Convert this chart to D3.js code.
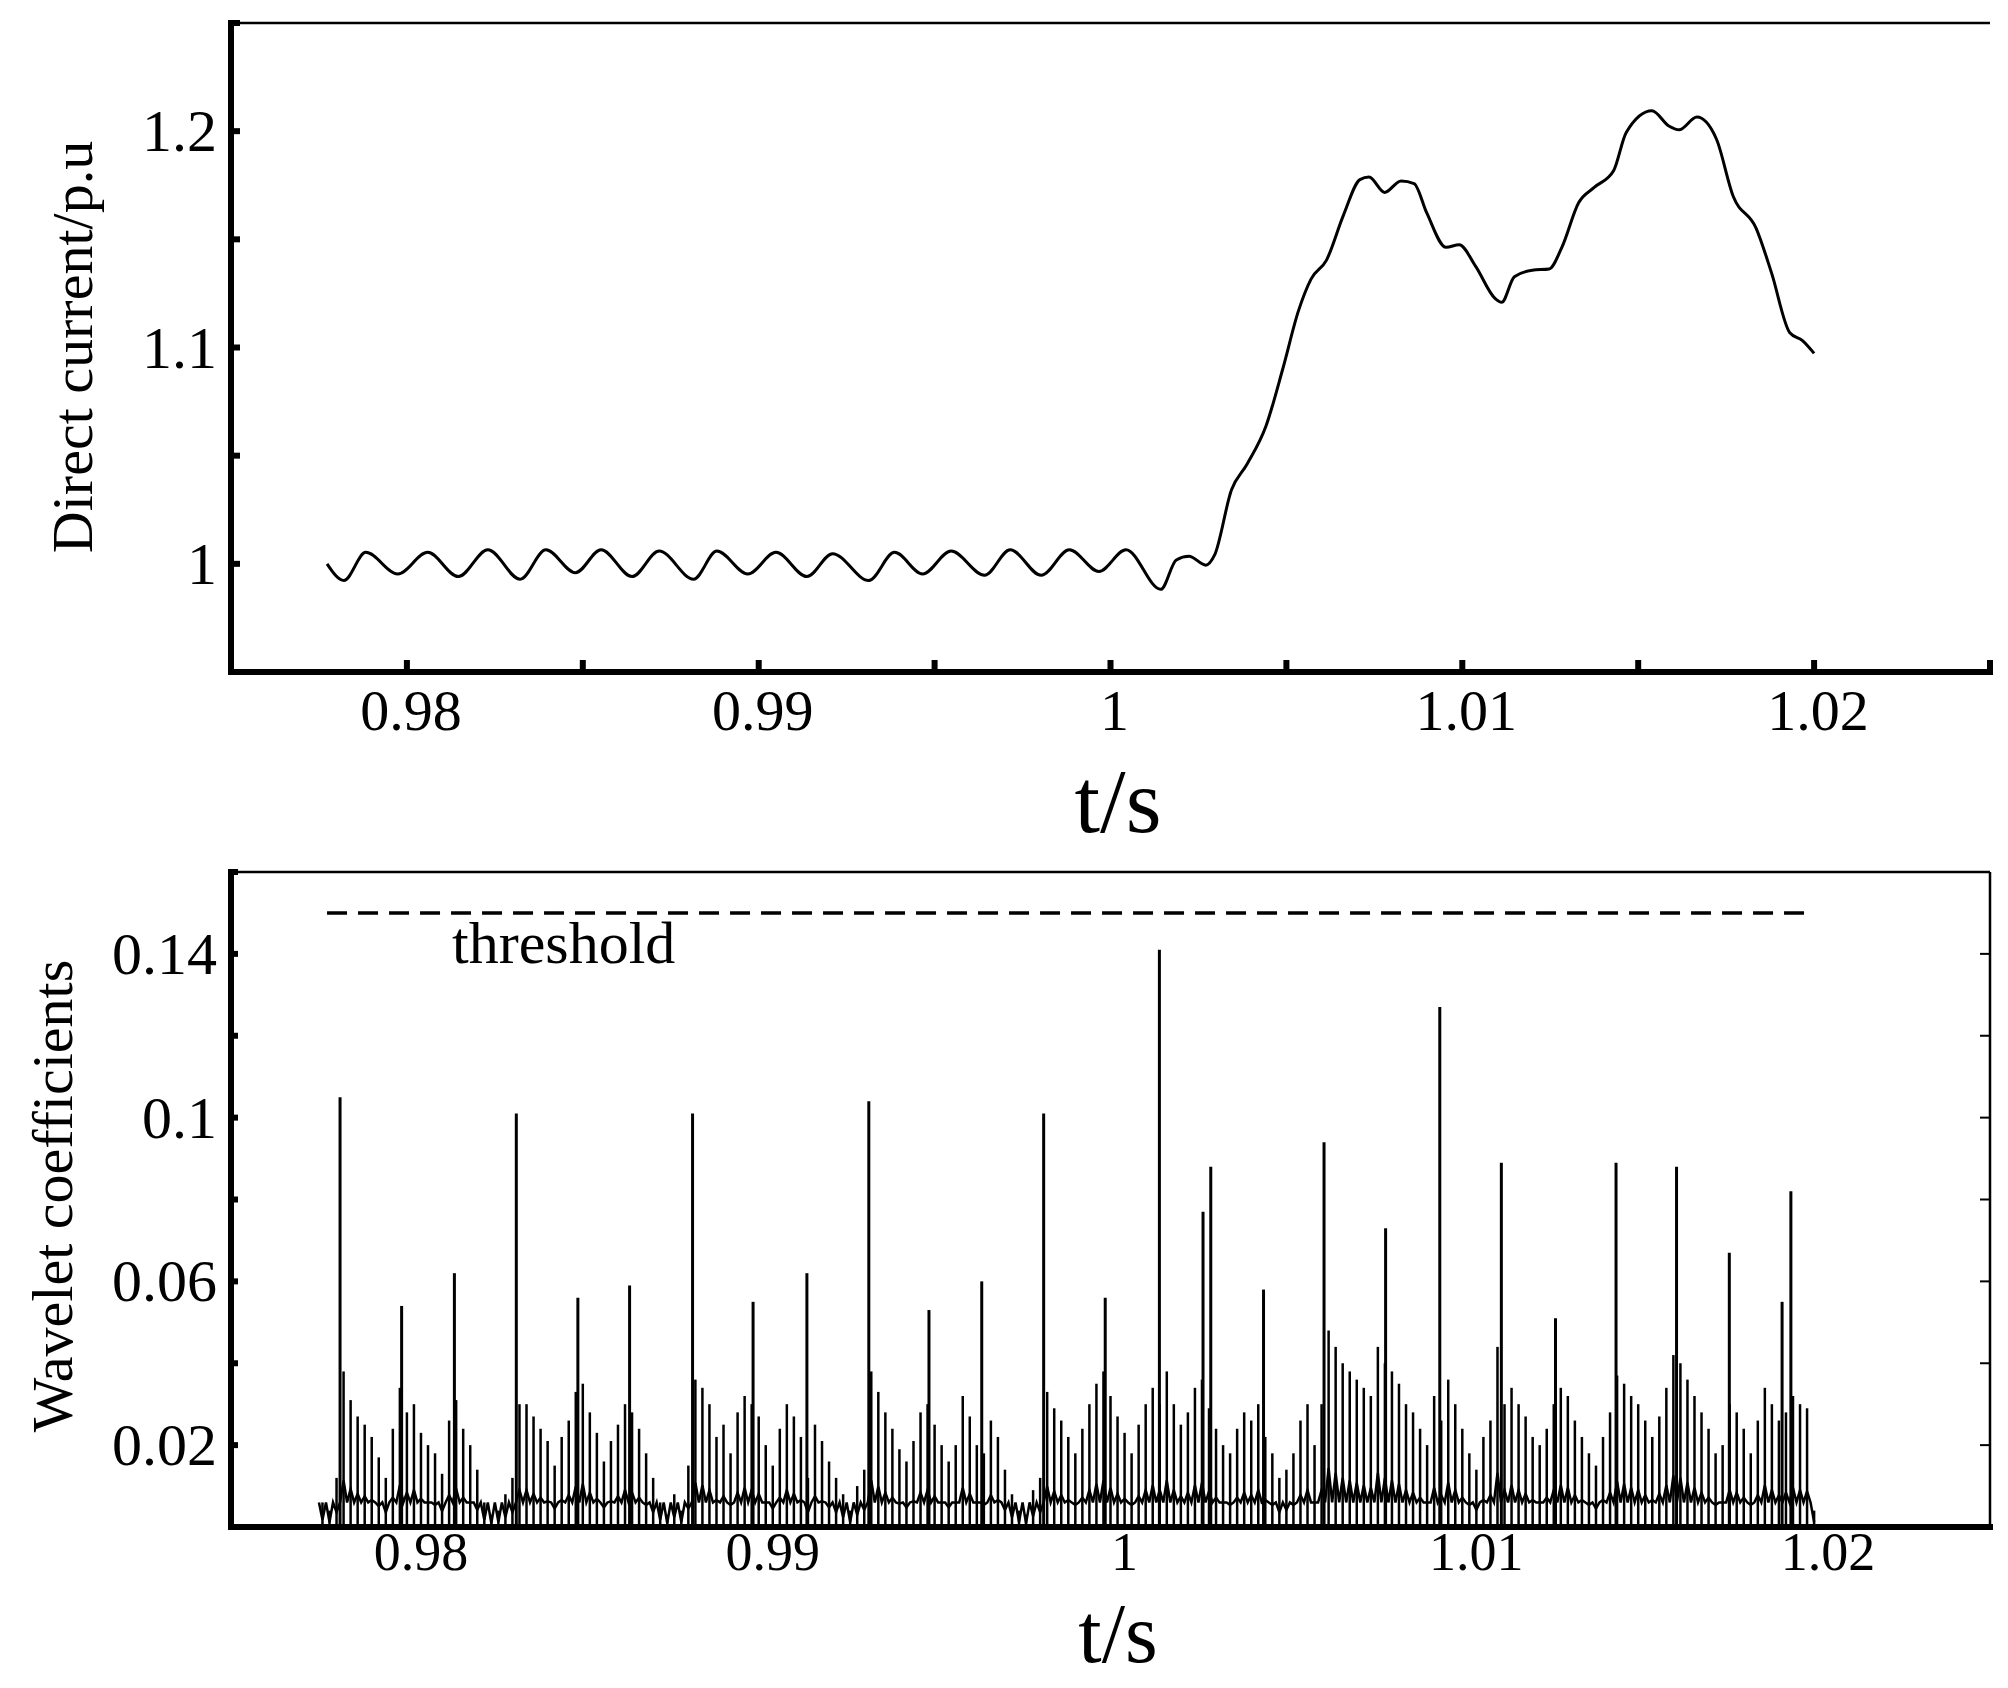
<!DOCTYPE html>
<html><head><meta charset="utf-8">
<script src="https://cdn.jsdelivr.net/npm/d3@7"></script>
<style>body{margin:0;background:#fff}text{font-family:"Liberation Serif",serif;fill:#000}</style>
</head><body><svg id="c" width="2008" height="1688"></svg>
<script>
// ---- data ----
const currentT = [0.97773,0.97821,0.97883,0.97974,0.98059,0.98146,0.98230,0.98322,0.98395,0.98479,0.98552,0.98640,0.98717,0.98815,0.98881,0.98969,0.99049,0.99137,0.99210,0.99313,0.99386,0.99466,0.99547,0.99642,0.99715,0.99803,0.99883,0.99967,1.00044,1.00143,1.00187,1.00223,1.00271,1.00296,1.00344,1.00388,1.00442,1.00490,1.00534,1.00570,1.00614,1.00662,1.00709,1.00735,1.00779,1.00826,1.00863,1.00899,1.00954,1.00991,1.01038,1.01093,1.01112,1.01148,1.01199,1.01247,1.01283,1.01331,1.01375,1.01430,1.01466,1.01539,1.01587,1.01616,1.01667,1.01722,1.01770,1.01835,1.01879,1.01931,1.01967,1.02000];
const currentV = [1.000,0.9923,1.0053,0.9953,1.0053,0.9941,1.0065,0.9929,1.0065,0.9959,1.0065,0.9941,1.0059,0.9929,1.0059,0.9953,1.0053,0.9941,1.0047,0.9923,1.0053,0.9953,1.0059,0.9947,1.0065,0.9947,1.0065,0.9965,1.0065,0.9882,1.0018,1.0035,0.9994,1.0041,1.0342,1.0460,1.0637,1.0903,1.1168,1.1316,1.1404,1.1611,1.1776,1.1788,1.1717,1.1770,1.1758,1.1622,1.1463,1.1475,1.1375,1.1227,1.1209,1.1327,1.1357,1.1363,1.1463,1.1670,1.1740,1.1817,1.1994,1.2094,1.2024,1.2006,1.2065,1.1965,1.1699,1.1552,1.1345,1.1068,1.1032,1.0973];
const spikeT = [0.97810,0.97985,0.98135,0.98311,0.98486,0.98633,0.98812,0.98984,0.99137,0.99313,0.99484,0.99634,0.99810,0.99985,1.00139,1.00263,1.00285,1.00435,1.00607,1.00782,1.00936,1.01111,1.01265,1.01437,1.01609,1.01759,1.01909,1.01934];
const spikeV = [0.105,0.054,0.062,0.101,0.056,0.059,0.101,0.055,0.062,0.104,0.053,0.060,0.101,0.056,0.141,0.077,0.088,0.058,0.094,0.073,0.127,0.089,0.051,0.089,0.088,0.067,0.055,0.082];
const coefStart = 0.9776, coefStep = 0.0002;
const coefV = [0.006,0.004,0.012,
0.038,0.031,0.027,0.025,0.022,0.017,0.012,0.024,
0.034,0.028,0.030,0.023,0.020,0.018,0.013,0.026,
0.031,0.024,0.020,0.014,0.006,0.003,0.004,0.008,0.012,
0.030,0.030,0.027,0.024,0.021,0.015,0.022,0.026,0.033,
0.035,0.028,0.023,0.016,0.021,0.025,0.030,0.028,
0.024,0.018,0.012,0.006,0.003,0.008,0.004,0.015,
0.036,0.034,0.030,0.022,0.025,0.018,0.028,0.032,0.030,
0.027,0.020,0.015,0.024,0.030,0.027,0.022,0.012,
0.025,0.021,0.016,0.012,0.008,0.004,0.010,0.014,
0.038,0.033,0.028,0.024,0.019,0.016,0.021,0.028,0.030,
0.025,0.020,0.016,0.020,0.032,0.027,0.020,0.018,
0.026,0.022,0.014,0.008,0.004,0.003,0.009,0.012,
0.033,0.029,0.026,0.022,0.018,0.024,0.030,0.035,0.038,
0.032,0.027,0.023,0.018,0.025,0.030,0.034,0.030,
0.038,0.030,0.025,0.028,0.034,0.036,0.029,
0.024,0.020,0.018,0.024,0.028,0.026,0.030,0.022,
0.018,0.012,0.014,0.018,0.026,0.030,0.020,0.030,
0.048,0.044,0.040,0.038,0.036,0.034,0.032,0.044,0.040,
0.038,0.035,0.030,0.028,0.024,0.020,0.032,0.026,
0.036,0.030,0.024,0.018,0.014,0.022,0.026,0.044,0.030,
0.034,0.030,0.027,0.022,0.020,0.024,0.030,0.034,
0.032,0.026,0.022,0.018,0.015,0.022,0.028,0.037,
0.035,0.032,0.030,0.026,0.022,0.027,0.034,0.042,0.040,
0.036,0.032,0.028,0.024,0.018,0.020,0.030,0.028,
0.024,0.018,0.026,0.034,0.030,0.026,0.028,0.032,
0.030,0.029,0.004];
const threshold = 0.15;
const xTicks = [0.98,0.99,1,1.01,1.02];
const topYLabels = [1,1.1,1.2];
const botYLabels = [0.02,0.06,0.1,0.14];

const svg = d3.select("#c");
const L=231,R=1990;
const x = d3.scaleLinear().domain([0.975,1.025]).range([L,R]);
const fmt = d=>String(d);

// ---- top panel ----
const T1=23,B1=672;
const y1 = d3.scaleLinear().domain([0.95,1.25]).range([B1,T1]);
const g1 = svg.append("g");
g1.append("line").attr("x1",L).attr("x2",R).attr("y1",T1).attr("y2",T1).attr("stroke","#000").attr("stroke-width",2.5);
d3.range(0.95,1.2501,0.05).forEach(v=>g1.append("line").attr("x1",L).attr("x2",L+9).attr("y1",y1(v)).attr("y2",y1(v)).attr("stroke","#000").attr("stroke-width",6));
d3.range(0.975,1.0251,0.005).forEach(v=>g1.append("line").attr("x1",x(v)).attr("x2",x(v)).attr("y1",B1).attr("y2",B1-12).attr("stroke","#000").attr("stroke-width",6));
g1.append("line").attr("x1",L).attr("x2",L).attr("y1",T1-3).attr("y2",B1+3).attr("stroke","#000").attr("stroke-width",6);
g1.append("line").attr("x1",L-3).attr("x2",R+3).attr("y1",B1).attr("y2",B1).attr("stroke","#000").attr("stroke-width",6);
topYLabels.forEach(v=>g1.append("text").attr("x",L-14).attr("y",y1(v)+20).attr("text-anchor","end").attr("font-size",60).text(fmt(v)));
xTicks.forEach(v=>g1.append("text").attr("x",x(v)+4).attr("y",730).attr("text-anchor","middle").attr("font-size",58).text(fmt(v)));
g1.append("text").attr("x",1118).attr("y",832).attr("text-anchor","middle").attr("font-size",92).text("t/s");
g1.append("text").attr("transform","translate(92,347) rotate(-90)").attr("text-anchor","middle").attr("font-size",58).text("Direct current/p.u");
g1.append("path").datum(currentT.map((t,i)=>[t,currentV[i]]))
  .attr("d",d3.line().x(d=>x(d[0])).y(d=>y1(d[1])).curve(d3.curveMonotoneX))
  .attr("fill","none").attr("stroke","#000").attr("stroke-width",3);

// ---- bottom panel ----
const T2=872,B2=1527;
const y2 = d3.scaleLinear().domain([0,0.16]).range([B2,T2]);
const g2 = svg.append("g");
g2.append("line").attr("x1",L).attr("x2",R).attr("y1",T2).attr("y2",T2).attr("stroke","#000").attr("stroke-width",2.5);
g2.append("line").attr("x1",R).attr("x2",R).attr("y1",T2).attr("y2",B2).attr("stroke","#000").attr("stroke-width",2.5);
d3.range(0.02,0.1601,0.02).forEach(v=>{
  g2.append("line").attr("x1",R).attr("x2",R-10).attr("y1",y2(v)).attr("y2",y2(v)).attr("stroke","#000").attr("stroke-width",2);
  g2.append("line").attr("x1",L).attr("x2",L+7).attr("y1",y2(v)).attr("y2",y2(v)).attr("stroke","#000").attr("stroke-width",6);
});
const coefData = coefV.map((v,i)=>[coefStart+coefStep*i,v]);
g2.selectAll(".c").data(coefData).enter().append("line")
  .attr("x1",d=>x(d[0])).attr("x2",d=>x(d[0])).attr("y1",y2(0)).attr("y2",d=>y2(d[1]))
  .attr("stroke","#000").attr("stroke-width",2.5);
g2.append("path").datum(coefData.flatMap(d=>[[d[0]-coefStep/2,0.006],[d[0],d[1]*0.3]]))
  .attr("d",d3.line().x(d=>x(d[0])).y(d=>y2(d[1]))).attr("fill","none").attr("stroke","#000").attr("stroke-width",2.5);
g2.selectAll(".s").data(spikeT.map((t,i)=>[t,spikeV[i]])).enter().append("line")
  .attr("x1",d=>x(d[0])).attr("x2",d=>x(d[0])).attr("y1",y2(0)).attr("y2",d=>y2(d[1]))
  .attr("stroke","#000").attr("stroke-width",3);
g2.append("line").attr("x1",x(0.97773)).attr("x2",x(1.02)).attr("y1",y2(threshold)).attr("y2",y2(threshold))
  .attr("stroke","#000").attr("stroke-width",3.5).attr("stroke-dasharray","20,11");
g2.append("text").attr("x",452).attr("y",963).attr("font-size",60).text("threshold");
g2.append("line").attr("x1",L).attr("x2",L).attr("y1",T2-3).attr("y2",B2+3).attr("stroke","#000").attr("stroke-width",6);
g2.append("line").attr("x1",L-3).attr("x2",R+3).attr("y1",B2).attr("y2",B2).attr("stroke","#000").attr("stroke-width",6);
botYLabels.forEach(v=>g2.append("text").attr("x",L-14).attr("y",y2(v)+20).attr("text-anchor","end").attr("font-size",60).text(fmt(v)));
xTicks.forEach(v=>g2.append("text").attr("x",x(v)+14).attr("y",1570).attr("text-anchor","middle").attr("font-size",54).text(fmt(v)));
g2.append("text").attr("x",1118).attr("y",1662).attr("text-anchor","middle").attr("font-size",84).text("t/s");
g2.append("text").attr("transform","translate(72,1196) rotate(-90)").attr("text-anchor","middle").attr("font-size",58).text("Wavelet coefficients");
</script></body></html>
